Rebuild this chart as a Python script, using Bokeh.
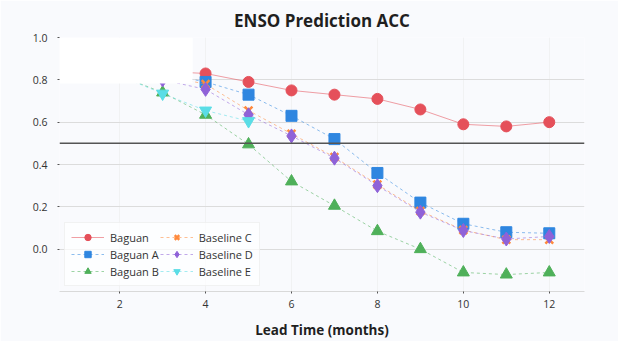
from bokeh.plotting import figure
from bokeh.models import Range1d, Span, Legend, LegendItem, FixedTicker
from bokeh.embed import file_html
from bokeh.resources import INLINE

leads = [1, 2, 3, 4, 5, 6, 7, 8, 9, 10, 11, 12]
baguan = [0.86, 0.845, 0.84, 0.83, 0.79, 0.75, 0.73, 0.71, 0.66, 0.59, 0.58, 0.60]
baguan_a = [0.87, 0.85, 0.83, 0.79, 0.73, 0.63, 0.52, 0.36, 0.22, 0.12, 0.08, 0.075]
baguan_b = [0.87, 0.82, 0.74, 0.635, 0.495, 0.32, 0.205, 0.085, 0.0, -0.11, -0.12, -0.11]
baseline_c = [0.88, 0.85, 0.82, 0.78, 0.655, 0.545, 0.435, 0.305, 0.18, 0.09, 0.045, 0.045]
baseline_d = [0.87, 0.84, 0.80, 0.755, 0.635, 0.535, 0.43, 0.30, 0.175, 0.088, 0.048, 0.06]
leads_e = [1, 2, 3, 4, 5]
baseline_e = [0.87, 0.82, 0.735, 0.655, 0.605]

reference_line = 0.5
x_ticks = [2, 4, 6, 8, 10, 12]
y_ticks = [0.0, 0.2, 0.4, 0.6, 0.8, 1.0]

BG = "#f9fafd"
FONT = "Open Sans"

p = figure(width=618, height=341, output_backend="svg", toolbar_location=None,
           x_range=Range1d(0.6, 12.82), y_range=Range1d(-0.2, 1.0),
           background_fill_color=BG, border_fill_color=BG,
           min_border_left=59, min_border_right=34, min_border_top=37, min_border_bottom=46,
           outline_line_color=None)

p.title.text = "ENSO Prediction ACC"
p.title.align = "center"
p.title.text_font = FONT
p.title.text_font_size = "17px"
p.title.text_font_style = "bold"
p.title.text_color = "#1f1f1f"
p.title.standoff = 12

# axes
p.xaxis.ticker = FixedTicker(ticks=x_ticks)
p.yaxis.ticker = FixedTicker(ticks=y_ticks)
p.yaxis.major_label_overrides = {t: f"{t:.1f}" for t in y_ticks}
p.xaxis.axis_label = "Lead Time (months)"
p.xaxis.axis_label_text_font = FONT
p.xaxis.axis_label_text_font_size = "13.5px"
p.xaxis.axis_label_text_font_style = "bold"
p.xaxis.axis_label_text_color = "#1f1f1f"
p.xaxis.axis_label_standoff = 10
for ax in (p.xaxis, p.yaxis):
    ax.major_label_text_font = FONT
    ax.major_label_text_font_size = "10.5px"
    ax.major_label_text_color = "#333333"
    ax.minor_tick_line_color = None
    ax.major_tick_in = 0
    ax.major_tick_out = 2
    ax.major_tick_line_color = "#555555"
p.xaxis.axis_line_color = "#d9d9d9"
p.yaxis.axis_line_color = None
p.xaxis.major_label_standoff = 6
p.yaxis.major_label_standoff = 10

p.ygrid.grid_line_color = "#dcdcdc"
p.xgrid.grid_line_color = "#eeeeee"
p.xgrid.grid_line_alpha = 0.7

# reference line
p.add_layout(Span(location=reference_line, dimension="width", line_color="#555555", line_width=1.5))

series = [
    ("Baguan", leads, baguan, "#e5505a", "circle", 11, None),
    ("Baguan A", leads, baguan_a, "#2f86e0", "square", 11, "3 3"),
    ("Baguan B", leads, baguan_b, "#4fb05a", "triangle", 12, "3 3"),
    ("Baseline C", leads, baseline_c, "#ff8a3d", "x", 11, "3 3"),
    ("Baseline D", leads, baseline_d, "#8f62d8", "diamond", 14, "3 3"),
    ("Baseline E", leads_e, baseline_e, "#5adde6", "inverted_triangle", 12, "3 3"),
]

items = []
for name, xs, ys, color, marker, size, dash in series:
    if dash is None:
        l = p.line(xs, ys, line_color=color, line_width=1, line_alpha=0.55)
    else:
        l = p.line(xs, ys, line_color=color, line_width=1, line_alpha=0.55, line_dash=dash)
    if marker == "x":
        s = p.scatter(xs, ys, marker=marker, size=size, line_color=color, line_width=2.5)
    else:
        s = p.scatter(xs, ys, marker=marker, size=size, fill_color=color, line_color=color,
                      line_width=1)
    items.append(LegendItem(label=name, renderers=[l, s]))

# white overlay seen in the top-left of the reference
p.quad(left=[0.6], right=[3.7], bottom=[0.783], top=[1.0], fill_color="white",
       fill_alpha=1.0, line_color=None)

legend = Legend(items=items, location="bottom_left", ncols=2,
                label_text_font=FONT, label_text_font_size="11px", label_text_color="#333333",
                glyph_width=33, glyph_height=16, label_height=12, spacing=1,
                label_standoff=6, padding=6, margin=5,
                background_fill_color="white", background_fill_alpha=0.7,
                border_line_color="#e6e6e6")
p.add_layout(legend)

open("out.html", "w").write(file_html(p, INLINE))
